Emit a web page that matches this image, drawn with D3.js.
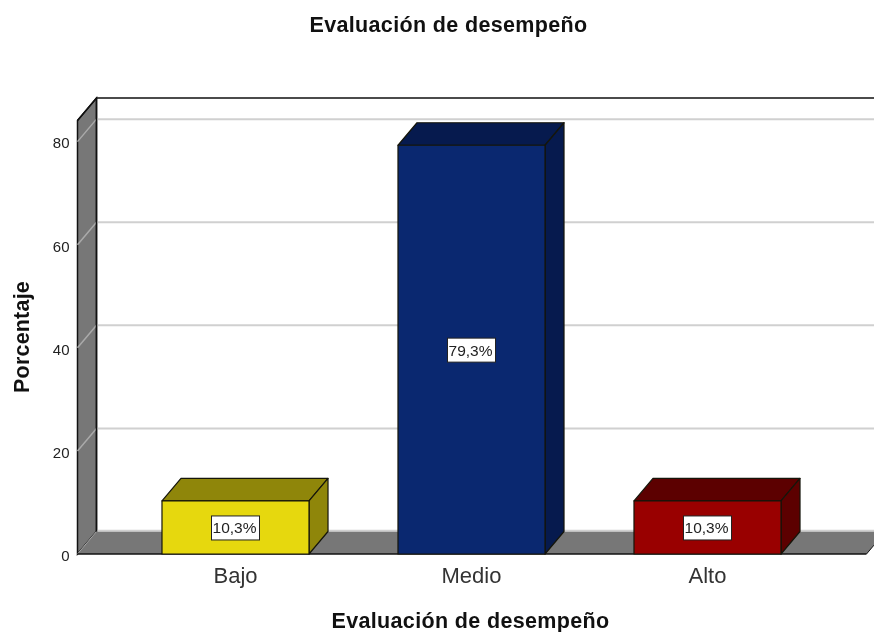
<!DOCTYPE html>
<html>
<head>
<meta charset="utf-8">
<script src="https://cdn.jsdelivr.net/npm/d3@7"></script>
<style>
  html, body { margin: 0; padding: 0; background: #fff; }
  svg { display: block; filter: blur(0.35px); }
  text { font-family: "Liberation Sans", Arial, sans-serif; }
</style>
</head>
<body>
<div id="chart"></div>
<script>
const categories = ["Bajo", "Medio", "Alto"];
const values = [10.3, 79.3, 10.3];
const valueLabels = ["10,3%", "79,3%", "10,3%"];
const yTicks = [0, 20, 40, 60, 80];
const faceColors = ["#e6d80e", "#0a2870", "#990000"];
const topColors = ["#8f860a", "#061a4e", "#5c0000"];
const sideColors = ["#8f860a", "#061a4e", "#5c0000"];

const width = 874,
      height = 632;

const plotLeft = 77.5,
      plotRight = 865.5,
      floorRight = 866.5,
      plotBottom = 554,
      plotTop = 120.5;
const depthX = 19,
      depthY = 22.5;

const svg = d3.select("#chart")
.append("svg")
  .attr("width", width)
  .attr("height", height);

const x = d3.scaleBand()
.domain(categories)
.range([plotLeft, plotRight])
.paddingInner(0.377)
.paddingOuter(0.358);

const y = d3.scaleLinear()
.domain([0, 84.1])
.range([plotBottom, plotTop]);

const line = d3.line();
const poly = pts => line(pts) + "Z";

// side wall and floor
svg.append("path")
  .attr("d", poly([[plotLeft, plotBottom], [plotLeft, plotTop], [plotLeft + depthX, plotTop - depthY], [plotLeft + depthX, plotBottom - depthY]]))
  .attr("fill", "#777777")
  .attr("stroke", "#111")
  .attr("stroke-width", 1.5);
svg.append("path")
  .attr("d", poly([[plotLeft, plotBottom], [floorRight, plotBottom], [floorRight + depthX, plotBottom - depthY], [plotLeft + depthX, plotBottom - depthY]]))
  .attr("fill", "#777777");

// gridlines, back wall then side wall
const grid = svg.append("g");
grid.selectAll("line.back")
.data(yTicks.slice(1))
.enter()
.append("line")
  .attr("class", "back")
  .attr("x1", plotLeft + depthX)
  .attr("x2", width)
  .attr("y1", d => y(d) - depthY)
  .attr("y2", d => y(d) - depthY)
  .attr("stroke", "#d0d0d0")
  .attr("stroke-width", 2);
grid.selectAll("line.side")
.data(yTicks.slice(1))
.enter()
.append("line")
  .attr("class", "side")
  .attr("x1", plotLeft)
  .attr("x2", plotLeft + depthX)
  .attr("y1", d => y(d))
  .attr("y2", d => y(d) - depthY)
  .attr("stroke", "#aaaaaa")
  .attr("stroke-width", 1.5);
grid.append("line")
  .attr("x1", plotLeft + depthX)
  .attr("x2", width)
  .attr("y1", plotBottom - depthY - 1)
  .attr("y2", plotBottom - depthY - 1)
  .attr("stroke", "#d0d0d0")
  .attr("stroke-width", 1.5);
grid.append("line")
  .attr("x1", plotLeft)
  .attr("x2", plotLeft + depthX)
  .attr("y1", plotBottom)
  .attr("y2", plotBottom - depthY)
  .attr("stroke", "#a8a8a8")
  .attr("stroke-width", 1);

// frame
svg.append("path")
  .attr("d", line([[plotLeft, plotTop], [plotLeft + depthX, plotTop - depthY], [width, plotTop - depthY]]))
  .attr("fill", "none")
  .attr("stroke", "#111")
  .attr("stroke-width", 1.5);
svg.append("line")
  .attr("x1", plotLeft + depthX)
  .attr("x2", plotLeft + depthX)
  .attr("y1", plotTop - depthY)
  .attr("y2", plotBottom - depthY)
  .attr("stroke", "#111")
  .attr("stroke-width", 1.5);
svg.append("line")
  .attr("x1", plotLeft)
  .attr("x2", floorRight)
  .attr("y1", plotBottom)
  .attr("y2", plotBottom)
  .attr("stroke", "#111")
  .attr("stroke-width", 1.5);
svg.append("line")
  .attr("x1", floorRight)
  .attr("x2", width)
  .attr("y1", plotBottom)
  .attr("y2", plotBottom - (width - floorRight) * depthY / depthX)
  .attr("stroke", "#111")
  .attr("stroke-width", 1);

// bars
const bars = svg.selectAll("g.bar")
.data(categories)
.enter()
.append("g")
  .attr("class", "bar");

bars.append("path")
  .attr("d", (d, i) => {
    const x0 = x(d), x1 = x0 + x.bandwidth(), yv = y(values[i]);
    return poly([[x0, yv], [x1, yv], [x1 + depthX, yv - depthY], [x0 + depthX, yv - depthY]]);
  })
  .attr("fill", (d, i) => topColors[i]);
bars.append("path")
  .attr("d", (d, i) => {
    const x1 = x(d) + x.bandwidth(), yv = y(values[i]);
    return poly([[x1, yv], [x1 + depthX, yv - depthY], [x1 + depthX, plotBottom - depthY], [x1, plotBottom]]);
  })
  .attr("fill", (d, i) => sideColors[i]);
bars.append("rect")
  .attr("x", d => x(d))
  .attr("y", (d, i) => y(values[i]))
  .attr("width", x.bandwidth())
  .attr("height", (d, i) => plotBottom - y(values[i]))
  .attr("fill", (d, i) => faceColors[i]);
bars.selectAll("path, rect")
  .attr("stroke", "#15150a")
  .attr("stroke-width", 1.2)
  .attr("stroke-linejoin", "round");

// value labels
const boxW = 48,
      boxH = 24;
bars.append("rect")
  .attr("x", d => x(d) + x.bandwidth() / 2 - boxW / 2)
  .attr("y", (d, i) => (y(values[i]) + plotBottom) / 2 - boxH / 2 + 0.5)
  .attr("width", boxW)
  .attr("height", boxH)
  .attr("fill", "#fff")
  .attr("stroke", "#222")
  .attr("stroke-width", 1);
bars.append("text")
  .attr("x", d => x(d) + x.bandwidth() / 2 - 1)
  .attr("y", (d, i) => (y(values[i]) + plotBottom) / 2 + 0.5)
  .attr("dy", "0.35em")
  .attr("text-anchor", "middle")
  .attr("font-size", 15.5)
  .attr("fill", "#222")
  .text((d, i) => valueLabels[i]);

// axes
const yAxis = svg.append("g")
  .attr("transform", `translate(${plotLeft},0)`)
  .call(d3.axisLeft(y).tickValues(yTicks).tickSize(0).tickPadding(8));
yAxis.select(".domain").remove();
yAxis.selectAll("text")
  .attr("font-size", 15)
  .attr("y", 1.5)
  .attr("font-family", "Liberation Sans")
  .attr("fill", "#222");

const xAxis = svg.append("g")
  .attr("transform", `translate(0,${plotBottom})`)
  .call(d3.axisBottom(x).tickSize(0).tickPadding(13));
xAxis.select(".domain").remove();
xAxis.selectAll("text")
  .attr("font-size", 22)
  .attr("font-family", "Liberation Sans")
  .attr("fill", "#333");

// titles
svg.append("text")
  .attr("x", 448.5)
  .attr("y", 32)
  .attr("text-anchor", "middle")
  .attr("font-size", 21.5)
  .attr("letter-spacing", 0.35)
  .attr("font-weight", "bold")
  .attr("fill", "#111")
  .text("Evaluación de desempeño");
svg.append("text")
  .attr("x", 470.5)
  .attr("y", 628)
  .attr("text-anchor", "middle")
  .attr("font-size", 21.5)
  .attr("letter-spacing", 0.35)
  .attr("font-weight", "bold")
  .attr("fill", "#111")
  .text("Evaluación de desempeño");
svg.append("text")
  .attr("transform", "translate(29,337) rotate(-90)")
  .attr("text-anchor", "middle")
  .attr("font-size", 21.5)
  .attr("letter-spacing", 0.2)
  .attr("font-weight", "bold")
  .attr("fill", "#111")
  .text("Porcentaje");
</script>
</body>
</html>
